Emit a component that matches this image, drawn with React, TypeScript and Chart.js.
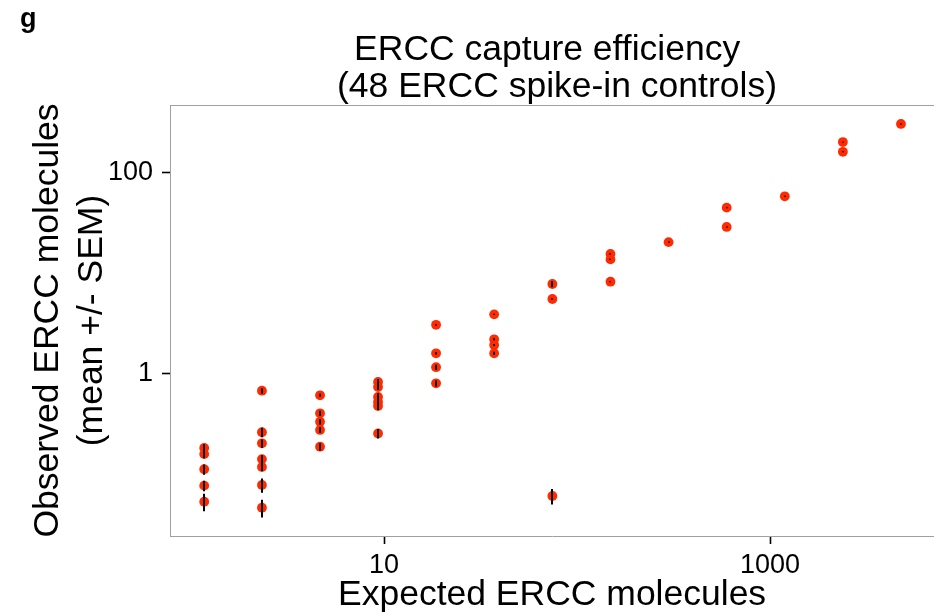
import React, { useEffect, useRef } from 'react';
import { Chart, registerables } from 'chart.js';

Chart.register(...registerables);

// ---- data ----
const expectedMolecules = [
  1.17, 1.17, 1.17, 1.17, 1.17,
  2.33, 2.33, 2.33, 2.33, 2.33, 2.33, 2.33,
  4.66, 4.66, 4.66, 4.66, 4.66,
  9.31, 9.31, 9.31, 9.31, 9.31, 9.31,
  18.6, 18.6, 18.6, 18.6,
  37.2, 37.2, 37.2, 37.2,
  74.5, 74.5, 74.5,
  149, 149, 149,
  298,
  596, 596,
  1192,
  2384, 2384,
  4768,
];

const observedMean = [
  0.181, 0.157, 0.111, 0.0762, 0.0528,
  0.671, 0.259, 0.201, 0.14, 0.117, 0.0774, 0.046,
  0.604, 0.4, 0.33, 0.273, 0.186,
  0.819, 0.731, 0.581, 0.518, 0.473, 0.252,
  3.04, 1.58, 1.15, 0.795,
  3.86, 2.18, 1.91, 1.58,
  7.74, 5.49, 0.0601,
  15.4, 13.6, 8.16,
  20.2,
  44.5, 28.6,
  57.7,
  200, 160,
  303,
];

const observedSEM = [
  0.016, 0.014, 0.013, 0.009, 0.0105,
  0.04, 0.028, 0.019, 0.013, 0.011, 0.0125, 0.0093,
  0.021, 0.024, 0.02, 0.019, 0.015,
  0.057, 0.05, 0.056, 0.05, 0.045, 0.027,
  0.045, 0.04, 0.066, 0.055,
  0.06, 0.05, 0.045, 0.055,
  0.54, 0.08, 0.0106,
  0.22, 0.2, 0.12,
  0.25,
  0.5, 0.35,
  0.6,
  2, 1.8,
  3,
];

const xTickValues = [10, 1000];
const yTickValues = [1, 100];

const panelTag = 'g';
const chartTitle = ['ERCC capture efficiency ', ' (48 ERCC spike-in controls)'];
const xAxisTitle = 'Expected ERCC molecules';
const yAxisTitle = ['Observed ERCC molecules', '(mean +/- SEM)'];

const FONT = "'Liberation Sans', Arial, Helvetica, sans-serif";
const POINT_COLOR = '#ff2a00';
const BORDER_COLOR = '#a0a0a0';

const errorBarPlugin = {
  id: 'errorBars',
  afterDatasetsDraw(chart: any) {
    const { ctx, chartArea } = chart;
    const xs = chart.scales.x;
    const ys = chart.scales.y;
    ctx.save();
    ctx.beginPath();
    ctx.rect(chartArea.left, chartArea.top, chartArea.right - chartArea.left, chartArea.bottom - chartArea.top);
    ctx.clip();
    ctx.strokeStyle = '#000';
    ctx.lineWidth = 2;
    ctx.lineCap = 'butt';
    for (let i = 0; i < observedMean.length; i++) {
      const m = observedMean[i];
      const s = observedSEM[i];
      const px = Math.round(xs.getPixelForValue(expectedMolecules[i]));
      const lo = Math.max(m - s, 1e-6);
      const y1 = ys.getPixelForValue(lo);
      const y2 = ys.getPixelForValue(m + s);
      ctx.beginPath();
      ctx.moveTo(px, y1);
      ctx.lineTo(px, y2);
      ctx.stroke();
    }
    ctx.restore();
  },
};

const panelPlugin = {
  id: 'panelDecor',
  afterDraw(chart: any) {
    const { ctx, chartArea } = chart;
    ctx.save();
    // top panel border
    ctx.strokeStyle = BORDER_COLOR;
    ctx.lineWidth = 1;
    ctx.beginPath();
    ctx.moveTo(chartArea.left, chartArea.top + 0.5);
    ctx.lineTo(chartArea.right, chartArea.top + 0.5);
    ctx.stroke();
    // panel tag
    ctx.fillStyle = '#000';
    ctx.textBaseline = 'alphabetic';
    ctx.textAlign = 'left';
    ctx.font = `bold 27px ${FONT}`;
    ctx.fillText(panelTag, 20, 27);
    // title
    ctx.font = `35.5px ${FONT}`;
    ctx.textAlign = 'center';
    const cx = (chartArea.left + chartArea.right) / 2;
    ctx.fillText(chartTitle[0], cx, 60);
    ctx.fillText(chartTitle[1], cx, 97);
    ctx.restore();
  },
};

export default function App() {
  const canvasRef = useRef<HTMLCanvasElement | null>(null);

  useEffect(() => {
    const canvas = canvasRef.current;
    if (!canvas) return;
    const points = expectedMolecules.map((x, i) => ({ x, y: observedMean[i] }));
    const chart = new Chart(canvas, {
      type: 'scatter',
      data: {
        datasets: [
          {
            data: points,
            backgroundColor: POINT_COLOR,
            borderColor: POINT_COLOR,
            borderWidth: 0,
            pointRadius: 4.9,
            pointHoverRadius: 4.9,
          },
        ],
      },
      plugins: [errorBarPlugin, panelPlugin],
      options: {
        animation: false,
        responsive: false,
        devicePixelRatio: 1,
        layout: { padding: { top: 105, left: 0, right: 0, bottom: 0 } },
        plugins: {
          legend: { display: false },
          tooltip: { enabled: false },
          title: { display: false },
        },
        scales: {
          x: {
            type: 'logarithmic',
            min: 0.778,
            max: 7079,
            afterBuildTicks: (scale: any) => {
              scale.ticks = xTickValues.map((v) => ({ value: v }));
            },
            afterFit: (scale: any) => {
              scale.height = 80;
              scale.paddingRight = 0;
              scale.paddingLeft = 0;
            },
            grid: {
              display: true,
              drawOnChartArea: false,
              drawTicks: true,
              tickLength: 8,
              tickColor: '#000',
              tickWidth: 1.6,
            },
            border: { display: true, color: BORDER_COLOR, width: 1 },
            ticks: {
              autoSkip: false,
              maxRotation: 0,
              color: '#000',
              padding: 5,
              font: { family: FONT, size: 27 },
              callback: (v: any) => String(v),
            },
            title: {
              display: true,
              text: xAxisTitle,
              color: '#000',
              font: { family: FONT, size: 35.5, lineHeight: 1.15 },
              padding: { top: 0, bottom: 0 },
            },
          },
          y: {
            type: 'logarithmic',
            min: 0.02404,
            max: 467.7,
            afterBuildTicks: (scale: any) => {
              scale.ticks = yTickValues.map((v) => ({ value: v }));
            },
            afterFit: (scale: any) => {
              scale.width = 170;
            },
            grid: {
              display: true,
              drawOnChartArea: false,
              drawTicks: true,
              tickLength: 8,
              tickColor: '#000',
              tickWidth: 1.6,
            },
            border: { display: true, color: BORDER_COLOR, width: 1 },
            ticks: {
              autoSkip: false,
              color: '#000',
              padding: 9,
              font: { family: FONT, size: 27 },
              callback: (v: any) => String(v),
            },
            title: {
              display: true,
              text: yAxisTitle,
              color: '#000',
              font: { family: FONT, size: 35.5, lineHeight: 1.245 },
              padding: { top: 26, bottom: 0 },
            },
          },
        },
      },
    } as any);
    return () => chart.destroy();
  }, []);

  return (
    <div style={{ position: 'fixed', left: 0, top: 0, width: 934, height: 616, overflow: 'hidden', background: '#fff' }}>
      <canvas ref={canvasRef} width={939} height={616} style={{ display: 'block' }} />
    </div>
  );
}
